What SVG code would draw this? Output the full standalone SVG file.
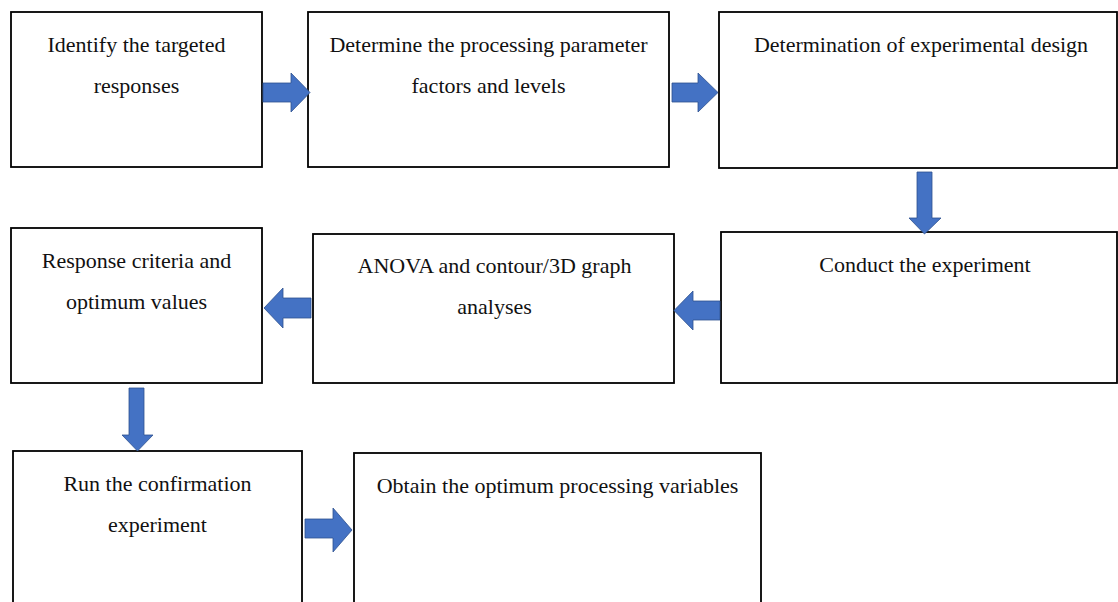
<svg xmlns="http://www.w3.org/2000/svg" width="1118" height="602" viewBox="0 0 1118 602">
<style>
.box{fill:#fff;stroke:#000;stroke-width:1.8}
.t{font-family:"Liberation Serif","Times New Roman",serif;font-size:22px;fill:#111;text-anchor:middle}
.arr{fill:#4472C4;stroke:#2F528F;stroke-width:0.8}
</style>
<rect width="1118" height="602" fill="#fff"/>
<g id="n1"><rect class="box" x="11" y="12" width="251" height="155"/><text class="t" x="136.5" y="52">Identify the targeted</text><text class="t" x="136.5" y="93">responses</text></g>
<g id="n2"><rect class="box" x="308" y="12" width="361" height="155"/><text class="t" x="488.5" y="52">Determine the processing parameter</text><text class="t" x="488.5" y="93">factors and levels</text></g>
<g id="n3"><rect class="box" x="719" y="12" width="398" height="156"/><text class="t" x="921" y="52">Determination of experimental design</text></g>
<g id="n4"><rect class="box" x="721" y="232" width="396" height="151"/><text class="t" x="925" y="272">Conduct the experiment</text></g>
<g id="n5"><rect class="box" x="313" y="234" width="361" height="149"/><text class="t" x="494.5" y="273">ANOVA and contour/3D graph</text><text class="t" x="494.5" y="314">analyses</text></g>
<g id="n6"><rect class="box" x="11" y="228" width="251" height="155"/><text class="t" x="136.5" y="268">Response criteria and</text><text class="t" x="136.5" y="309">optimum values</text></g>
<g id="n7"><rect class="box" x="13" y="451" width="289" height="170"/><text class="t" x="157.5" y="491">Run the confirmation</text><text class="t" x="157.5" y="532">experiment</text></g>
<g id="n8"><rect class="box" x="354" y="453" width="407" height="170"/><text class="t" x="557.5" y="493">Obtain the optimum processing variables</text></g>
<g id="connectors">
<polygon class="arr" points="263,83 291,83 291,73 310,92.5 291,112 291,102 263,102"/>
<polygon class="arr" points="672,83 698,83 698,73 718,92.5 698,112 698,102 672,102"/>
<polygon class="arr" points="917,172 932,172 932,218 941,218 924.5,234 909,218 917,218"/>
<polygon class="arr" points="720,301 693,301 693,291 674,310.5 693,330 693,320 720,320"/>
<polygon class="arr" points="311,298 283,298 283,288 264,308 283,328 283,318 311,318"/>
<polygon class="arr" points="129,388 144,388 144,435 153,435 137.5,451 122,435 129,435"/>
<polygon class="arr" points="305,519 333,519 333,508 352,530 333,552 333,538 305,538"/>
</g>
</svg>
